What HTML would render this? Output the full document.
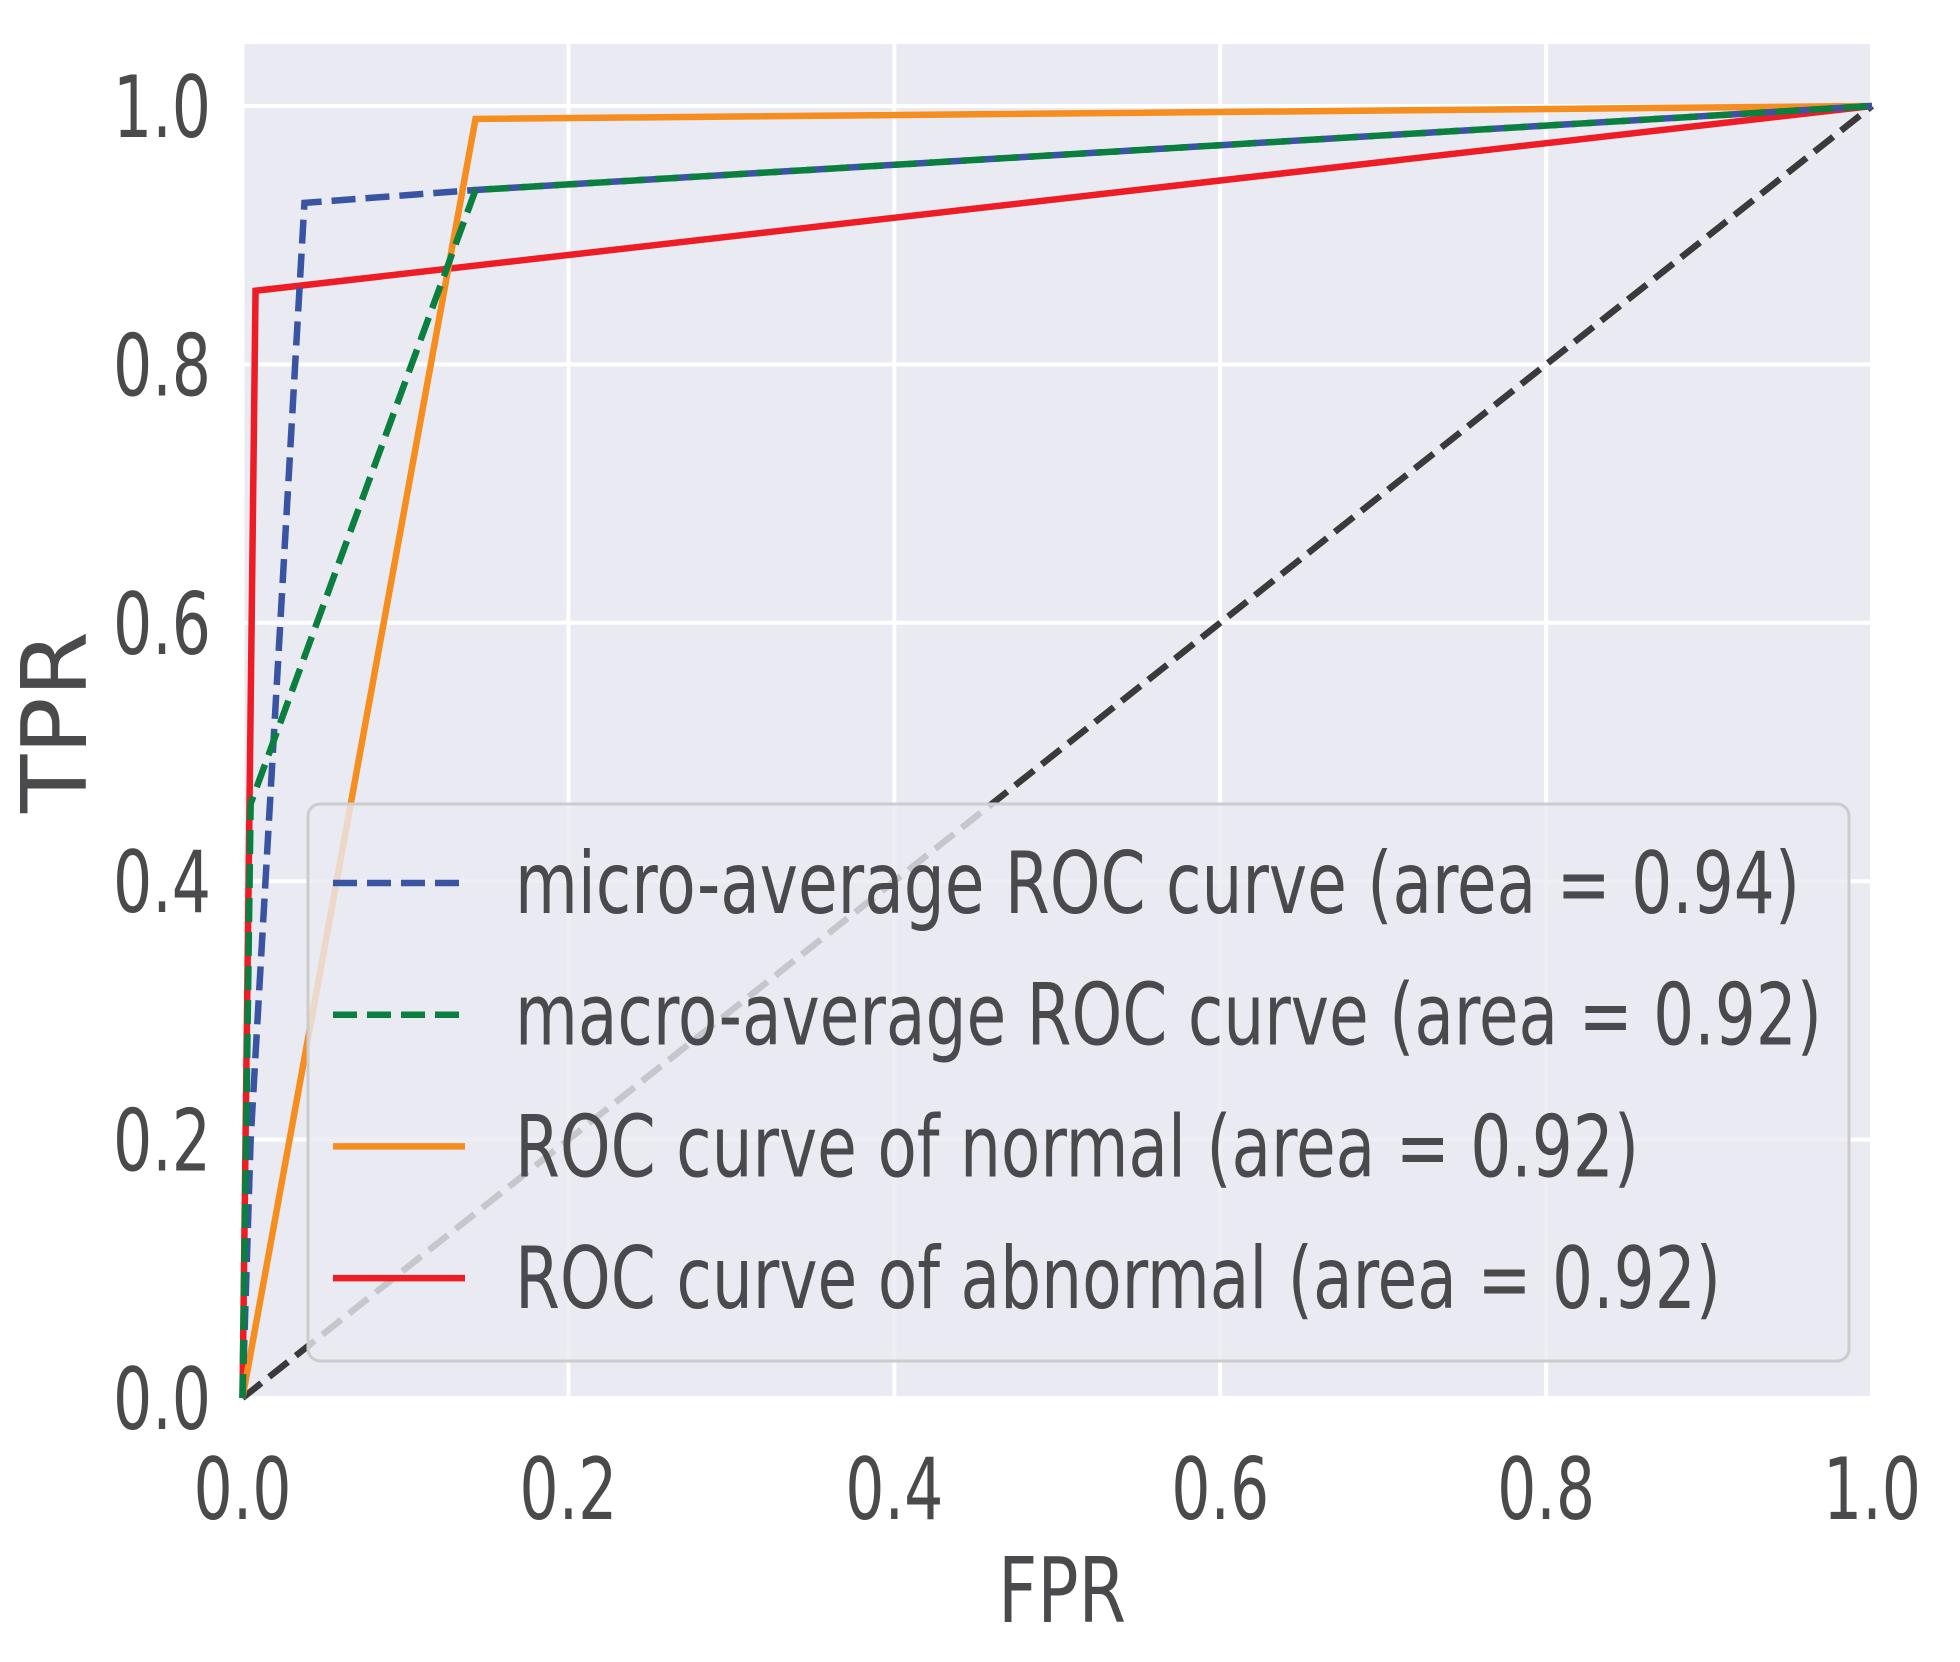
<!DOCTYPE html>
<html><head><meta charset="utf-8"><style>
html,body{margin:0;padding:0;background:#fff}
svg{display:block}
text{font-family:"DejaVu Sans","Liberation Sans",sans-serif;font-stretch:condensed;fill:#4a4a4c}
</style></head><body>
<svg id="chart" width="1960" height="1662" viewBox="0 0 1960 1662">
<rect x="242" y="44" width="1630" height="1354" fill="#eaeaf2"/>
<g id="grid"></g>
<g id="lines"></g>
<g id="ticks"></g>
<g id="legend"></g>
<text x="1062" y="1622" font-size="90" text-anchor="middle" textLength="128" lengthAdjust="spacingAndGlyphs">FPR</text>
<text x="0" y="0" font-size="90" text-anchor="middle" textLength="182" lengthAdjust="spacingAndGlyphs" transform="translate(86,722) rotate(-90)">TPR</text>
</svg>
<script>
const xTicks=[0,0.2,0.4,0.6,0.8,1.0];
const yTicks=[0,0.2,0.4,0.6,0.8,1.0];
const tickLabels=["0.0","0.2","0.4","0.6","0.8","1.0"];
const seriesNames=["micro-average ROC curve (area = 0.94)","macro-average ROC curve (area = 0.92)","ROC curve of normal (area = 0.92)","ROC curve of abnormal (area = 0.92)"];
const microFPR=[0,0.005,0.038,0.143,1];
const microTPR=[0,0.2,0.925,0.935,1];
const macroFPR=[0,0.005,0.143,1];
const macroTPR=[0,0.46,0.935,1];
const normalFPR=[0,0.143,1];
const normalTPR=[0,0.99,1];
const abnormalFPR=[0,0.008,1];
const abnormalTPR=[0,0.857,1];
const diagFPR=[0,1];
const diagTPR=[0,1];

const NS="http://www.w3.org/2000/svg";
const X0=242.5,X1=1872,Y0=1398,Y1=106;
const sx=v=>X0+(X1-X0)*v;
const sy=v=>Y0-(Y0-Y1)*v;
function mk(tag,attrs,parent){const e=document.createElementNS(NS,tag);for(const k in attrs)e.setAttribute(k,attrs[k]);parent.appendChild(e);return e;}
const grid=document.getElementById('grid'),lines=document.getElementById('lines'),ticks=document.getElementById('ticks'),legend=document.getElementById('legend');
xTicks.forEach((v,i)=>{
  const l=mk('line',{x1:sx(v),x2:sx(v),y1:44,y2:1398,stroke:'#fff','stroke-width':4},grid);
  
  
  const t=mk('text',{x:sx(v),y:1519,'font-size':86,'text-anchor':'middle',textLength:98,lengthAdjust:'spacingAndGlyphs'},ticks);
  t.textContent=tickLabels[i];
  
  
});
yTicks.forEach((v,i)=>{
  const l=mk('line',{x1:242,x2:1872,y1:sy(v),y2:sy(v),stroke:'#fff','stroke-width':4},grid);
  
  
  const t=mk('text',{x:211,y:sy(v)+31,'font-size':86,'text-anchor':'end',textLength:98,lengthAdjust:'spacingAndGlyphs'},ticks);
  t.textContent=tickLabels[i];
  
  
});
function path(xs,ys){return xs.map((x,i)=>(i?'L':'M')+sx(x)+' '+sy(ys[i])).join(' ');}
const series=[
 {xs:diagFPR,ys:diagTPR,c:'#3a3a3a',d:'24 10',name:'chance-diagonal'},
 {xs:abnormalFPR,ys:abnormalTPR,c:'#ee1c25',d:'',name:'abnormal-roc-line'},
 {xs:normalFPR,ys:normalTPR,c:'#f58d1f',d:'',name:'normal-roc-line'},
 {xs:microFPR,ys:microTPR,c:'#3a54a4',d:'24 10',name:'micro-average-roc-line'},
 {xs:macroFPR,ys:macroTPR,c:'#0a7f3f',d:'24 10',name:'macro-average-roc-line'}
];
series.forEach(s=>{
  const p=mk('path',{d:path(s.xs,s.ys),fill:'none',stroke:s.c,'stroke-width':6.5,'stroke-dasharray':s.d||'none','stroke-linejoin':'miter'},lines);
  
  
});
const box=mk('rect',{x:308,y:804,width:1541,height:557,rx:12,fill:'#eaeaf2','fill-opacity':0.8,stroke:'#cccccc','stroke-width':3},legend);


const legColors=['#3a54a4','#0a7f3f','#f58d1f','#ee1c25'];
const legDash=['24 10','24 10','',''];
const legWidths=[1285,1307,1124,1206];
seriesNames.forEach((n,i)=>{
  const y=883+i*131.7;
  const l=mk('line',{x1:333,x2:465,y1:y,y2:y,stroke:legColors[i],'stroke-width':6.5,'stroke-dasharray':legDash[i]||'none'},legend);
  
  
  const t=mk('text',{x:515,y:y+30,'font-size':86,textLength:legWidths[i],lengthAdjust:'spacingAndGlyphs'},legend);
  t.textContent=n;
  
  
});
</script>
</body></html>
